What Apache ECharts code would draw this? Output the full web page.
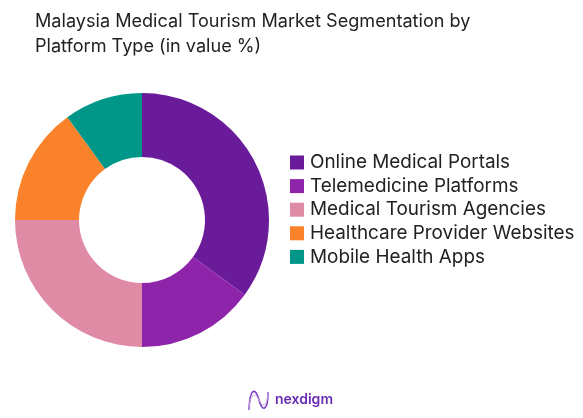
<!DOCTYPE html>
<html><head><meta charset="utf-8">
<style>html,body{margin:0;padding:0;background:#fff}#c{width:583px;height:418px}</style>
<script src="https://cdn.jsdelivr.net/npm/echarts@6/dist/echarts.min.js"></script>
</head><body><div id="c"></div>
<script>
const titleLines = ["Malaysia Medical Tourism Market Segmentation by","Platform Type (in value %)"];
const categories = ["Online Medical Portals","Telemedicine Platforms","Medical Tourism Agencies","Healthcare Provider Websites","Mobile Health Apps"];
const values = [35,15,25,15,10];
const colors = ["#6a1b9a","#8e24aa","#e08ba6","#f9822a","#009688"];
const font = "Inter";
const chart = echarts.init(document.getElementById('c'),null,{renderer:'canvas'});
const curve=(x1,y1,cx1,cy1,cx2,cy2,x2,y2,stroke,w)=>({type:'bezierCurve',shape:{x1,y1,cpx1:cx1,cpy1:cy1,cpx2:cx2,cpy2:cy2,x2,y2},style:{fill:null,stroke,lineWidth:w}});
chart.setOption({
  animation:false,
  backgroundColor:'#fff',
  title:{text:titleLines.join("\n"),left:30,top:4,textStyle:{fontFamily:font,fontSize:18.1,fontWeight:400,color:'#222',lineHeight:25}},
  legend:{orient:'vertical',left:285,top:148,itemWidth:14,itemHeight:14,itemGap:4.6,icon:'rect',
    textStyle:{fontFamily:font,fontSize:18.9,color:'#222',padding:[0,0,0,1]},
    data:categories},
  series:[{type:'pie',center:[142,220],radius:[63,127],startAngle:90,clockwise:true,
    label:{show:false},labelLine:{show:false},emphasis:{disabled:true},
    data:categories.map((n,i)=>({name:n,value:values[i],itemStyle:{color:colors[i]}}))}],
  graphic:[
    {type:'text',x:275,y:393,style:{text:'nexdigm',fontFamily:'Inter',fontSize:14,fontWeight:600,fill:'#6a2bb5'}},
    curve(249,410,250,386,256,388,259,400,'#7a3fc0',1.6),
    curve(259,400,262,412,268,412,268,392,'#7a3fc0',1.6),
    curve(249,410,249,396,255,390,259,400,'#c3a5e3',1),
    curve(259,400,263,408,267,408,268,392,'#c3a5e3',1)
  ]
});
</script></body></html>
